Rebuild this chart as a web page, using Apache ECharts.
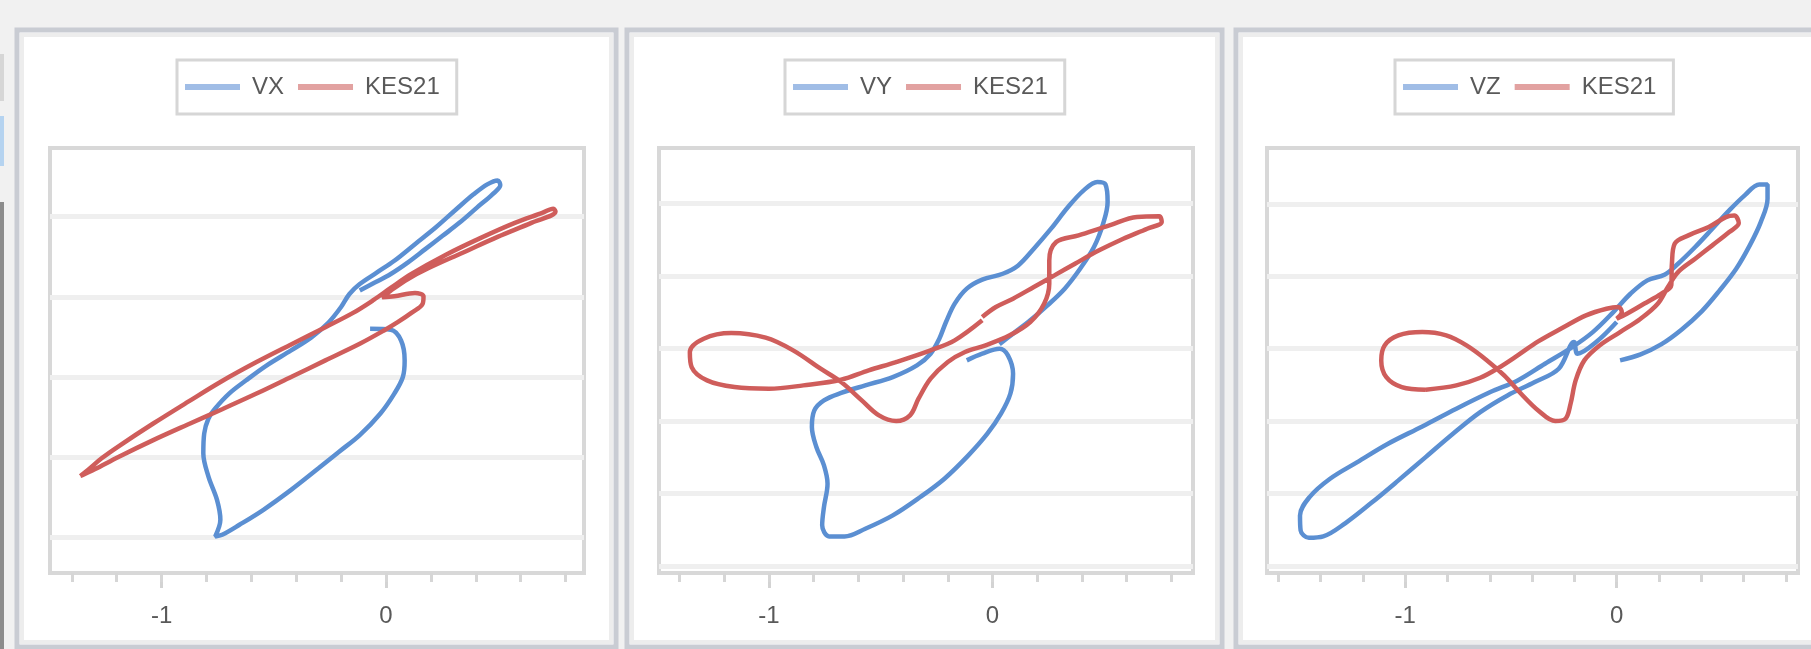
<!DOCTYPE html>
<html><head><meta charset="utf-8">
<script src="https://cdn.jsdelivr.net/npm/echarts@6/dist/echarts.min.js"></script>
<style>html,body{margin:0;padding:0;background:#f1f1f1;}#c{width:1811px;height:649px;}</style>
</head><body><div id="c"></div><script>
// ---- data ----
const seriesNames = ['VX', 'VY', 'VZ'];
const refName = 'KES21';
const xLabelValues = [-1, 0];
const minorTicksVX = [-1.4, -1.2, -1, -0.8, -0.6, -0.4, -0.2, 0, 0.2, 0.4, 0.6, 0.8];
const minorTicksVY = [-1.4, -1.2, -1, -0.8, -0.6, -0.4, -0.2, 0, 0.2, 0.4, 0.6, 0.8];
const minorTicksVZ = [-1.6, -1.4, -1.2, -1, -0.8, -0.6, -0.4, -0.2, 0, 0.2, 0.4, 0.6, 0.8];
const gridLinesVX = [-2, -1, 0, 1, 2];
const gridLinesVY = [-3, -2, -1, 0, 1, 2];
const gridLinesVZ = [-3, -2, -1, 0, 1, 2];

const vx = [[-0.071,0.600],[0.021,0.588],[0.067,0.455],[0.083,0.207],[0.075,0.0],[0.037,-0.207],[-0.025,-0.455],[-0.117,-0.725],[-0.209,-0.932],[-0.301,-1.139],[-0.423,-1.408],[-0.546,-1.656],[-0.653,-1.843],[-0.730,-1.967],[-0.761,-1.988],[-0.738,-1.781],[-0.753,-1.532],[-0.791,-1.242],[-0.814,-0.952],[-0.810,-0.704],[-0.791,-0.518],[-0.761,-0.393],[-0.699,-0.207],[-0.623,-0.041],[-0.531,0.145],[-0.423,0.331],[-0.331,0.497],[-0.255,0.683],[-0.201,0.870],[-0.163,1.035],[-0.117,1.159],[-0.040,1.304],[0.037,1.449],[0.129,1.656],[0.221,1.863],[0.313,2.091],[0.390,2.277],[0.451,2.402],[0.497,2.451],[0.509,2.393],[0.474,2.277],[0.405,2.112],[0.328,1.925],[0.252,1.760],[0.175,1.594],[0.098,1.429],[0.021,1.284],[-0.048,1.180],[-0.117,1.077]];
const kesVX = [[-1.362,-1.234],[-1.328,-1.159],[-1.267,-1.014],[-1.190,-0.861],[-1.037,-0.580],[-0.883,-0.311],[-0.730,-0.050],[-0.577,0.186],[-0.423,0.406],[-0.270,0.621],[-0.147,0.799],[-0.055,0.961],[0.021,1.110],[0.113,1.284],[0.267,1.524],[0.420,1.731],[0.574,1.921],[0.696,2.046],[0.745,2.099],[0.755,2.062],[0.650,1.925],[0.497,1.747],[0.344,1.553],[0.190,1.358],[0.098,1.222],[0.021,1.077],[-0.017,0.994],[0.037,1.006],[0.129,1.048],[0.167,1.006],[0.163,0.911],[0.113,0.799],[0.052,0.683],[-0.009,0.580],[-0.117,0.414],[-0.270,0.207],[-0.423,0.0],[-0.577,-0.207],[-0.730,-0.402],[-0.883,-0.592],[-1.037,-0.787],[-1.190,-0.994],[-1.298,-1.151],[-1.351,-1.222],[-1.362,-1.234]];

const vy = [[-0.115,-0.161],[-0.046,-0.069],[0.031,0.0],[0.069,-0.092],[0.092,-0.345],[0.080,-0.621],[0.038,-0.897],[-0.023,-1.172],[-0.108,-1.471],[-0.215,-1.793],[-0.323,-2.046],[-0.446,-2.299],[-0.569,-2.483],[-0.662,-2.589],[-0.731,-2.589],[-0.762,-2.437],[-0.754,-2.184],[-0.738,-1.862],[-0.754,-1.609],[-0.788,-1.356],[-0.808,-1.080],[-0.797,-0.851],[-0.754,-0.713],[-0.677,-0.611],[-0.569,-0.506],[-0.446,-0.391],[-0.338,-0.230],[-0.277,-0.069],[-0.238,0.138],[-0.208,0.368],[-0.169,0.621],[-0.115,0.828],[-0.046,0.952],[0.046,1.034],[0.115,1.149],[0.185,1.379],[0.262,1.655],[0.338,1.954],[0.408,2.184],[0.469,2.299],[0.505,2.267],[0.515,2.023],[0.495,1.724],[0.454,1.402],[0.392,1.103],[0.323,0.828],[0.246,0.598],[0.169,0.391],[0.092,0.207],[0.031,0.060]];
const kesVY = [[-0.046,0.391],[-0.169,0.115],[-0.277,-0.023],[-0.431,-0.184],[-0.554,-0.299],[-0.677,-0.428],[-0.846,-0.506],[-1.000,-0.552],[-1.154,-0.529],[-1.277,-0.437],[-1.346,-0.253],[-1.354,-0.046],[-1.292,0.138],[-1.169,0.216],[-1.015,0.152],[-0.892,-0.023],[-0.769,-0.276],[-0.677,-0.460],[-0.585,-0.713],[-0.508,-0.920],[-0.431,-0.998],[-0.369,-0.920],[-0.331,-0.690],[-0.277,-0.414],[-0.200,-0.184],[-0.123,-0.046],[-0.031,0.046],[0.077,0.184],[0.169,0.368],[0.231,0.621],[0.254,0.897],[0.254,1.218],[0.285,1.471],[0.385,1.563],[0.523,1.701],[0.646,1.816],[0.746,1.825],[0.757,1.747],[0.692,1.655],[0.585,1.517],[0.477,1.356],[0.369,1.172],[0.277,1.011],[0.185,0.851],[0.092,0.690],[0.015,0.575],[-0.046,0.437]];

const vz = [[0.016,-0.161],[0.113,-0.078],[0.210,0.060],[0.306,0.263],[0.403,0.521],[0.484,0.797],[0.565,1.106],[0.629,1.429],[0.681,1.751],[0.713,2.074],[0.713,2.272],[0.674,2.272],[0.605,2.120],[0.532,1.912],[0.452,1.659],[0.371,1.406],[0.290,1.175],[0.226,1.023],[0.145,0.945],[0.065,0.760],[-0.016,0.507],[-0.113,0.230],[-0.210,0.023],[-0.339,-0.207],[-0.468,-0.438],[-0.597,-0.599],[-0.758,-0.829],[-0.919,-1.074],[-1.081,-1.313],[-1.226,-1.567],[-1.355,-1.797],[-1.452,-2.051],[-1.497,-2.304],[-1.494,-2.512],[-1.455,-2.613],[-1.387,-2.594],[-1.282,-2.410],[-1.161,-2.134],[-1.032,-1.820],[-0.903,-1.498],[-0.774,-1.175],[-0.645,-0.876],[-0.516,-0.645],[-0.387,-0.461],[-0.274,-0.276],[-0.202,0.092],[-0.185,-0.069],[-0.097,0.092],[0.0,0.369]];
const kesVZ = [[-0.903,-0.567],[-0.758,-0.507],[-0.645,-0.401],[-0.565,-0.276],[-0.468,-0.092],[-0.371,0.101],[-0.258,0.286],[-0.145,0.461],[-0.048,0.553],[0.008,0.576],[0.024,0.507],[0.0,0.415],[0.048,0.484],[0.129,0.622],[0.210,0.760],[0.258,0.876],[0.261,1.175],[0.274,1.452],[0.339,1.567],[0.435,1.682],[0.516,1.820],[0.556,1.843],[0.577,1.737],[0.532,1.613],[0.452,1.429],[0.371,1.244],[0.290,1.060],[0.242,0.853],[0.194,0.622],[0.113,0.415],[0.016,0.230],[-0.081,0.046],[-0.153,-0.161],[-0.194,-0.438],[-0.218,-0.760],[-0.242,-0.968],[-0.290,-1.000],[-0.371,-0.853],[-0.452,-0.622],[-0.532,-0.369],[-0.613,-0.161],[-0.710,0.046],[-0.806,0.184],[-0.919,0.230],[-1.032,0.184],[-1.097,0.046],[-1.113,-0.161],[-1.089,-0.392],[-1.016,-0.530],[-0.903,-0.567]];

// ---- layout / style ----
const BLUE = '#5b8fd2', RED = '#cf5d5b';
const FONT = "'Liberation Sans', Arial, sans-serif";
const panels = [
  {name: seriesNames[0], main: vx, ref: kesVX, minor: minorTicksVX, gl: gridLinesVX,
   grid: {left: 50, top: 148, width: 534, height: 425}, xMin: -1.497, xMax: 0.882, yMin: -2.444, yMax: 2.855,
   legendLeft: 177, frame: [17, 30, 599, 617]},
  {name: seriesNames[1], main: vy, ref: kesVY, minor: minorTicksVY, gl: gridLinesVY,
   grid: {left: 659, top: 148, width: 534, height: 425}, xMin: -1.492, xMax: 0.897, yMin: -3.094, yMax: 2.768,
   legendLeft: 785, frame: [627, 30, 595, 617]},
  {name: seriesNames[2], main: vz, ref: kesVZ, minor: minorTicksVZ, gl: gridLinesVZ,
   grid: {left: 1267, top: 148, width: 531, height: 425}, xMin: -1.653, xMax: 0.857, yMin: -3.10, yMax: 2.775,
   legendLeft: 1395, frame: [1236, 30, 600, 617]}
];

const option = {
  backgroundColor: '#f1f1f1',
  animation: false,
  grid: [], xAxis: [], yAxis: [], series: [], legend: [],
  graphic: {elements: []}
};

// left-edge window strip
option.graphic.elements.push(
  {type: 'rect', z: -20, shape: {x: 0, y: 54, width: 4, height: 47}, style: {fill: '#d6d6d6'}},
  {type: 'rect', z: -20, shape: {x: 0, y: 116, width: 4, height: 50}, style: {fill: '#b5d3f0'}},
  {type: 'rect', z: -20, shape: {x: 0, y: 202, width: 4, height: 447}, style: {fill: '#8c8c8c'}}
);

panels.forEach((p, i) => {
  const [fx, fy, fw, fh] = p.frame;
  option.graphic.elements.push(
    {type: 'rect', z: -20, shape: {x: fx, y: fy, width: fw, height: fh}, style: {fill: '#ffffff', stroke: '#c9ccd3', lineWidth: 5}},
    {type: 'rect', z: -19, shape: {x: fx + 5, y: fy + 5, width: fw - 10, height: fh - 10}, style: {fill: 'none', stroke: '#ededed', lineWidth: 4}}
  );
  option.grid.push(Object.assign({show: true, borderColor: '#d8d8d8', borderWidth: 4, backgroundColor: 'transparent'}, p.grid));
  const base = {gridIndex: i, type: 'value', min: p.xMin, max: p.xMax, position: 'bottom', offset: 0,
    axisLine: {show: false, onZero: false}, splitLine: {show: false}};
  option.xAxis.push(Object.assign({}, base, {
    axisTick: {show: true, customValues: xLabelValues, length: 15, lineStyle: {color: '#d3d3d3', width: 3}},
    axisLabel: {show: true, customValues: xLabelValues, margin: 31, fontSize: 24, color: '#595959', fontFamily: FONT}
  }));
  option.xAxis.push(Object.assign({}, base, {
    axisTick: {show: true, customValues: p.minor, length: 9, lineStyle: {color: '#d6d6d6', width: 3}},
    axisLabel: {show: false}
  }));
  option.yAxis.push({gridIndex: i, type: 'value', min: p.yMin, max: p.yMax, show: false});
  option.series.push({
    type: 'line', name: '__grid' + i, xAxisIndex: 2 * i, yAxisIndex: i, data: [], silent: true, z: 1,
    markLine: {silent: true, z: 1, symbol: ['none', 'none'], label: {show: false},
      lineStyle: {color: '#efefef', width: 5, type: 'solid'}, emphasis: {disabled: true},
      data: p.gl.map(v => ({yAxis: v}))}
  });
  option.series.push({
    type: 'line', name: p.name, xAxisIndex: 2 * i, yAxisIndex: i, data: p.main, z: 3,
    showSymbol: false, symbol: 'none', smooth: 0.35, lineStyle: {color: BLUE, width: 4.5}, itemStyle: {color: BLUE}
  });
  option.series.push({
    type: 'line', name: refName, xAxisIndex: 2 * i, yAxisIndex: i, data: p.ref, z: 3,
    showSymbol: false, symbol: 'none', smooth: 0.35, lineStyle: {color: RED, width: 4.5}, itemStyle: {color: RED}
  });
  option.legend.push({
    left: p.legendLeft, top: 60, orient: 'horizontal', selectedMode: false,
    itemWidth: 55, itemHeight: 6, itemGap: 14, icon: 'rect',
    padding: [15, 17, 15, 8], borderColor: '#d6d6d6', borderWidth: 3, backgroundColor: '#ffffff',
    textStyle: {fontSize: 24, color: '#595959', fontFamily: FONT, padding: [0, 0, 0, 7]},
    data: [{name: p.name, itemStyle: {color: '#a0bde6'}}, {name: refName, itemStyle: {color: '#e2a2a1'}}]
  });
});

const chart = echarts.init(document.getElementById('c'), null, {renderer: 'canvas'});
chart.setOption(option);
</script></body></html>
